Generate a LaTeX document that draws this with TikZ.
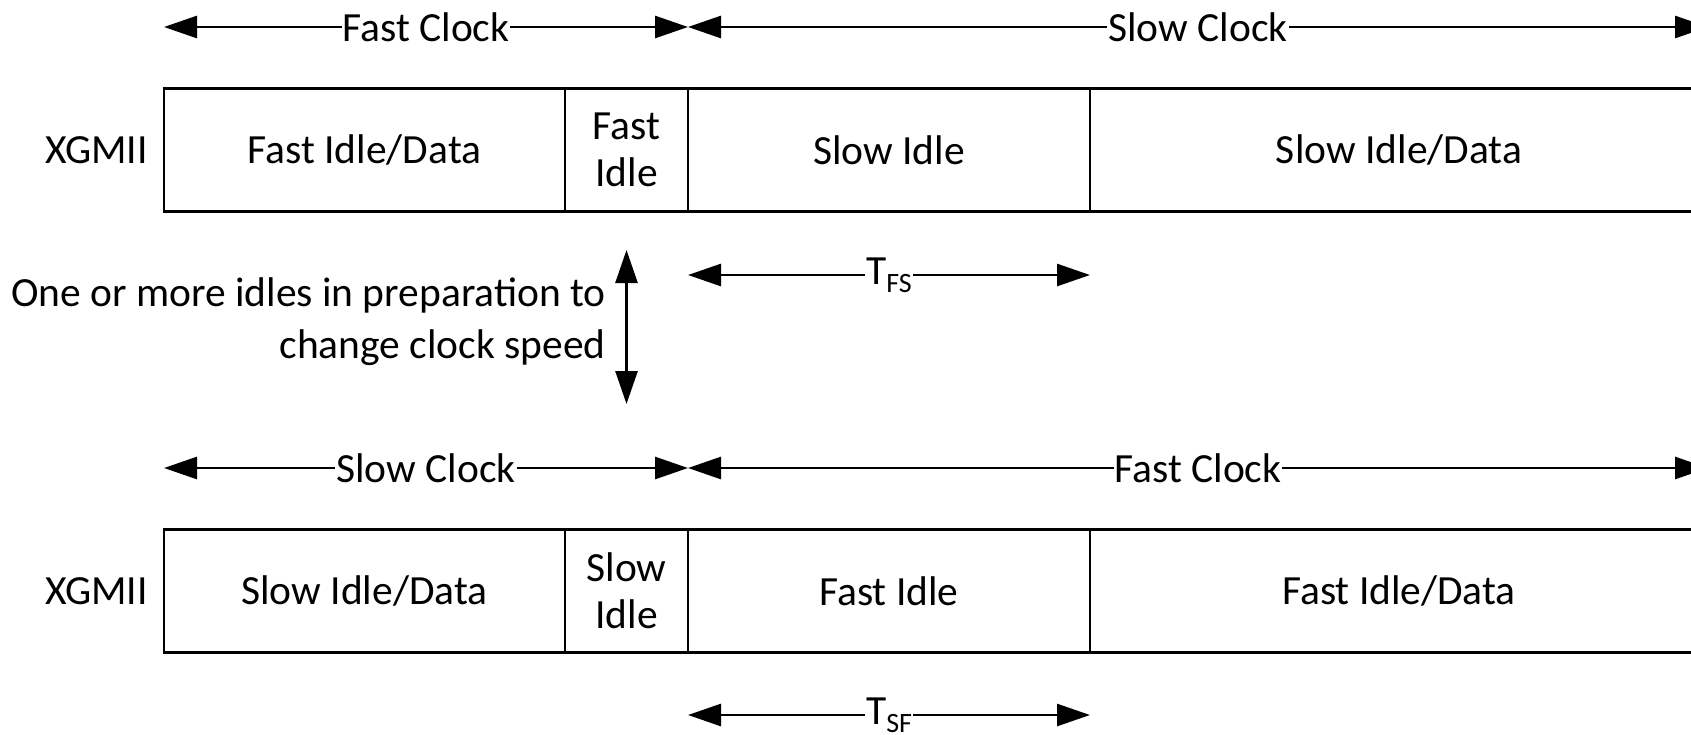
\documentclass[tikz,border=0pt]{standalone}
\usepackage{fontspec}
\setmainfont{Carlito}
\usetikzlibrary{arrows.meta}
\newcommand{\lowsub}[1]{\raisebox{-0.2em}{\fontsize{28}{28}\selectfont #1}}
\tikzset{
  seg/.style={draw, line width=2.7pt, outer sep=0pt, inner sep=0pt,
    minimum height=123pt, align=center, font=\fontsize{41.5}{47}\selectfont},
  txt/.style={inner sep=0pt, font=\fontsize{41.5}{51.7}\selectfont},
  dim/.style={line width=2.7pt,
    {Triangle[length=33pt,width=22pt]}-{Triangle[length=33pt,width=22pt]}},
  lbl/.style={fill=white, inner xsep=1pt, inner ysep=3pt,
    font=\fontsize{41.5}{47}\selectfont},
}
\begin{document}
\begin{tikzpicture}[x=1pt,y=-1pt]
  \useasboundingbox (0,0) rectangle (1691,734);
  \clip (0,0) rectangle (1691,734);
  % levels
  \coordinate (yclkA) at (0,27);
  \coordinate (yT1) at (0,275);
  \coordinate (yup) at (0,250);
  \coordinate (ydn) at (0,404);
  \coordinate (yclkB) at (0,468);
  \coordinate (yT2) at (0,715);
  % fast to slow
  \node[seg, minimum width=401pt] (fid) at (364.5,150) {Fast Idle/Data};
  \node[seg, minimum width=123pt] (fi) at (626.5,150) {Fast\\Idle};
  \node[seg, minimum width=402pt] (si) at (889,150) {Slow Idle};
  \node[seg, minimum width=618pt] (sid) at (1399,150) {Slow Idle/Data};
  \node[txt, anchor=east] (xg1) at (148,150) {XGMII};
  % slow to fast
  \node[seg, minimum width=401pt] (sid2) at (364.5,591) {Slow Idle/Data};
  \node[seg, minimum width=123pt] (si2) at (626.5,591) {Slow\\Idle};
  \node[seg, minimum width=402pt] (fi2) at (889,591) {Fast Idle};
  \node[seg, minimum width=618pt] (fid2) at (1399,591) {Fast Idle/Data};
  \node[txt, anchor=east] (xg2) at (148,591) {XGMII};
  \node[txt, anchor=east, align=right] (note) at (606,322)
    {One or more idles in preparation to\\change clock speed};
  \begin{scope}[dim]
    \draw (fid.west |- yclkA) -- node[lbl] {Fast Clock} (fi.east |- yclkA);
    \draw (si.west |- yclkA) -- node[lbl] {Slow Clock} (sid.east |- yclkA);
    \draw (si.west |- yT1) -- node[lbl] {T\lowsub{FS}} (si.east |- yT1);
    \draw (fi.south |- yup) -- (fi.south |- ydn);
    \draw (sid2.west |- yclkB) -- node[lbl] {Slow Clock} (si2.east |- yclkB);
    \draw (fi2.west |- yclkB) -- node[lbl] {Fast Clock} (fid2.east |- yclkB);
    \draw (fi2.west |- yT2) -- node[lbl] {T\lowsub{SF}} (fi2.east |- yT2);
  \end{scope}
\end{tikzpicture}
\end{document}
